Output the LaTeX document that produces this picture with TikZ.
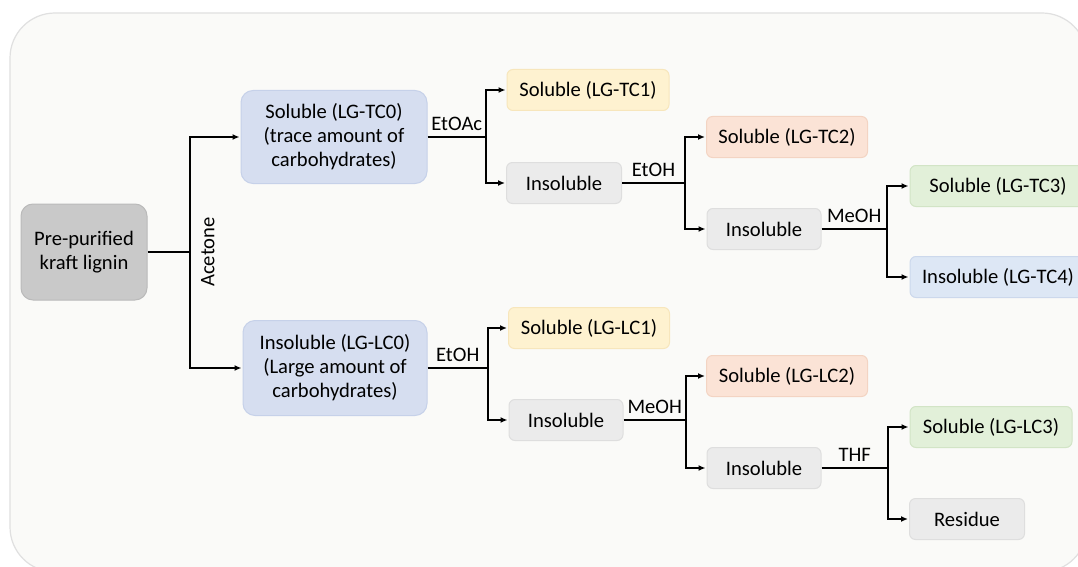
\documentclass[tikz,border=0pt]{standalone}
\usepackage{fontspec}
\setmainfont{Carlito}
\usetikzlibrary{arrows.meta, positioning}
\definecolor{panelbg}{RGB}{250,250,248}
\definecolor{panelrim}{RGB}{224,224,224}
\definecolor{stemgray}{RGB}{201,201,201}
\definecolor{stemrim}{RGB}{186,186,186}
\definecolor{fracgray}{RGB}{235,235,235}
\definecolor{fracgrayrim}{RGB}{222,222,222}
\definecolor{fracyellow}{RGB}{254,242,208}
\definecolor{fracyellowrim}{RGB}{247,230,188}
\definecolor{fracpeach}{RGB}{251,227,214}
\definecolor{fracpeachrim}{RGB}{243,212,195}
\definecolor{fracgreen}{RGB}{226,240,217}
\definecolor{fracgreenrim}{RGB}{210,228,198}
\definecolor{fracblue}{RGB}{214,222,240}
\definecolor{fracbluerim}{RGB}{198,209,233}
\definecolor{fraclblue}{RGB}{221,231,245}
\definecolor{fraclbluerim}{RGB}{204,216,236}
\tikzset{
  frac/.style={rectangle, rounded corners=6pt, minimum height=41pt,
    inner sep=0pt, align=center, line width=1pt},
  bigfrac/.style={frac, rounded corners=12pt, fill=fracblue,
    draw=fracbluerim, minimum width=186pt, minimum height=93pt},
  stem/.style={frac, rounded corners=12pt, fill=stemgray, draw=stemrim},
  grayfrac/.style={frac, fill=fracgray, draw=fracgrayrim},
  yellowfrac/.style={frac, fill=fracyellow, draw=fracyellowrim},
  peachfrac/.style={frac, fill=fracpeach, draw=fracpeachrim},
  greenfrac/.style={frac, fill=fracgreen, draw=fracgreenrim},
  bluefrac/.style={frac, fill=fraclblue, draw=fraclbluerim},
  arrow/.style={-{Latex[length=7pt, width=6pt]}, line width=1.5pt, shorten >=1pt},
  line/.style={line width=1.5pt},
  solvent/.style={above, inner sep=6pt}
}

\begin{document}
\begin{tikzpicture}[x=1pt, y=-1pt, font=\fontsize{20.6}{24}\selectfont]
  \clip (0,0) rectangle (1078,567);
  \fill[white] (0,0) rectangle (1078,567);
  % Backdrop panel
  \draw[fill=panelbg, draw=panelrim, line width=1.2pt, rounded corners=45pt]
    (10,13) rectangle (1087,572);
  % Starting material and acetone split
  \node[stem, minimum width=126pt, minimum height=96pt] (kl) at (84,252)
    {Pre-purified\\kraft lignin};
  \node[bigfrac] (tc0) at (334,137)
    {Soluble (LG-TC0)\\(trace amount of\\carbohydrates)};
  \node[bigfrac, minimum width=184pt, minimum height=95pt] (lc0) at (335,368)
    {Insoluble (LG-LC0)\\(Large amount of\\carbohydrates)};
  % Upper branch
  \node[yellowfrac, minimum width=162pt] (tc1) at (588,90) {Soluble (LG-TC1)};
  \node[grayfrac, minimum width=115pt] (tcin1) at (564,183) {Insoluble};
  \node[peachfrac, minimum width=161pt] (tc2) at (787,137) {Soluble (LG-TC2)};
  \node[grayfrac, minimum width=114pt] (tcin2) at (764,229) {Insoluble};
  \node[greenfrac, minimum width=176pt] (tc3) at (998,186) {Soluble (LG-TC3)};
  \node[bluefrac, minimum width=176pt] (tc4) at (998,277) {Insoluble (LG-TC4)};
  % Lower branch
  \node[yellowfrac, minimum width=161pt] (lc1) at (589,328) {Soluble (LG-LC1)};
  \node[grayfrac, minimum width=114pt] (lcin1) at (566,420) {Insoluble};
  \node[peachfrac, minimum width=161pt] (lc2) at (787,376) {Soluble (LG-LC2)};
  \node[grayfrac, minimum width=114pt] (lcin2) at (764,468) {Insoluble};
  \node[greenfrac, minimum width=162pt] (lc3) at (991,427) {Soluble (LG-LC3)};
  \node[grayfrac, minimum width=115pt] (res) at (967,519) {Residue};
  % Fork points
  \coordinate (s0) at (190,252);
  \coordinate (s1) at (486,137);
  \coordinate (s2) at (685,183);
  \coordinate (s3) at (887,229);
  \coordinate (s4) at (488,368);
  \coordinate (s5) at (686,420);
  \coordinate (s6) at (888,468);
  % Acetone
  \draw[line] (kl.east) -- (s0);
  \node[rotate=90, anchor=north, inner sep=11pt] (acetone) at (s0) {Acetone};
  \draw[arrow] (s0) |- (tc0.west);
  \draw[arrow] (s0) |- (lc0.west);
  % EtOAc, EtOH, MeOH on the soluble side
  \draw[line] (tc0.east) -- node[solvent] {EtOAc} (s1);
  \draw[arrow] (s1) |- (tc1.west);
  \draw[arrow] (s1) |- (tcin1.west);
  \draw[line] (tcin1.east) -- node[solvent] {EtOH} (s2);
  \draw[arrow] (s2) |- (tc2.west);
  \draw[arrow] (s2) |- (tcin2.west);
  \draw[line] (tcin2.east) -- node[solvent] {MeOH} (s3);
  \draw[arrow] (s3) |- (tc3.west);
  \draw[arrow] (s3) |- (tc4.west);
  % EtOH, MeOH, THF on the insoluble side
  \draw[line] (lc0.east) -- node[solvent] {EtOH} (s4);
  \draw[arrow] (s4) |- (lc1.west);
  \draw[arrow] (s4) |- (lcin1.west);
  \draw[line] (lcin1.east) -- node[solvent] {MeOH} (s5);
  \draw[arrow] (s5) |- (lc2.west);
  \draw[arrow] (s5) |- (lcin2.west);
  \draw[line] (lcin2.east) -- node[solvent] {THF} (s6);
  \draw[arrow] (s6) |- (lc3.west);
  \draw[arrow] (s6) |- (res.west);
\end{tikzpicture}
\end{document}
